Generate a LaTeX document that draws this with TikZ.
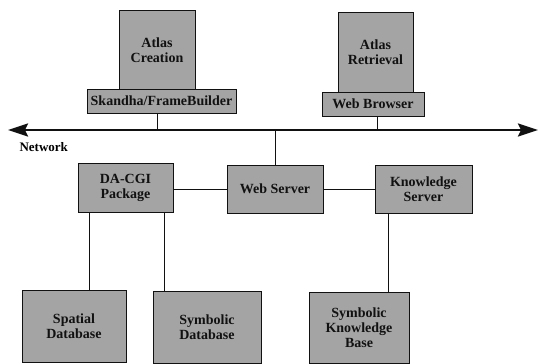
\documentclass[tikz,border=0pt]{standalone}
\usepackage{fontspec}
\setmainfont{Liberation Serif}
\usepackage{xcolor}
\usetikzlibrary{arrows.meta,positioning}
\definecolor{stipple}{HTML}{A4A4A4}
\definecolor{ink}{HTML}{111111}
\tikzset{
  font=\rmfamily\bfseries\fontsize{14}{15}\selectfont,
  base/.style={
    draw=ink, line width=0.8pt, fill=stipple, text=ink, align=center,
    inner sep=1pt
  },
  tall/.style={base, minimum width=76pt, minimum height=80pt},
  bar/.style={base, minimum height=24pt},
  mid/.style={base, minimum width=96pt, minimum height=48pt},
  store/.style={base, minimum height=72pt},
  wire/.style={draw=ink, line width=0.9pt},
  net/.style={draw=ink, line width=2.6pt,
    {Stealth[length=20pt,width=13pt,inset=3pt]}-{Stealth[length=20pt,width=13pt,inset=3pt]}}
}

\begin{document}
\begin{tikzpicture}[x=1pt,y=-1pt]
  \useasboundingbox (0,0) rectangle (538,364);

  % ---- Clients ----
  \node[tall] (creation) at (157,50) {Atlas\\Creation};
  \node[bar, minimum width=149pt] (skandha) at (161.5,101) {Skandha/FrameBuilder};
  \node[tall, minimum width=75pt] (retrieval) at (375.5,52) {Atlas\\Retrieval};
  \node[bar, minimum width=102pt] (browser) at (373,104) {Web Browser};

  % ---- Network ----
  \coordinate (netL) at (8,130);
  \coordinate (netR) at (538,130);
  \draw[net] (netL) -- (netR);
  \node[font=\rmfamily\bfseries\fontsize{13}{14}\selectfont, anchor=west] (netlabel) at (16,147) {Network};

  % ---- Servers ----
  \node[mid, minimum width=95pt, minimum height=49pt] (dacgi) at (125.5,187.5) {DA-CGI\\Package};
  \node[mid] (webserver) at (275,189) {Web Server};
  \node[mid, minimum width=97pt] (knowledge) at (423.5,189) {Knowledge\\Server};

  % ---- Stores ----
  \node[store, minimum width=104pt] (spatial) at (74,326) {Spatial\\Database};
  \node[store, minimum width=108pt] (symdb) at (207,327) {Symbolic\\Database};
  \node[store, minimum width=100pt, minimum height=71pt] (skb) at (359,328) {Symbolic\\Knowledge\\Base};

  % ---- Edges ----
  \draw[wire] ([xshift=-4.5pt]skandha.south) -- ([xshift=-4.5pt]skandha.south |- netL);
  \draw[wire] ([xshift=4pt]browser.south) -- ([xshift=4pt]browser.south |- netL);
  \draw[wire] (webserver.north) -- (webserver.north |- netL);
  \draw[wire] (dacgi.east |- webserver.west) -- (webserver.west);
  \draw[wire] (webserver.east) -- (knowledge.west);
  \draw[wire] ([xshift=-36.5pt]dacgi.south) -- ([xshift=-36.5pt]dacgi.south |- spatial.north);
  \draw[wire] ([xshift=38.5pt]dacgi.south) -- ([xshift=38.5pt]dacgi.south |- symdb.north);
  \draw[wire] ([xshift=-35.5pt]knowledge.south) -- ([xshift=-35.5pt]knowledge.south |- skb.north);
\end{tikzpicture}
\end{document}
